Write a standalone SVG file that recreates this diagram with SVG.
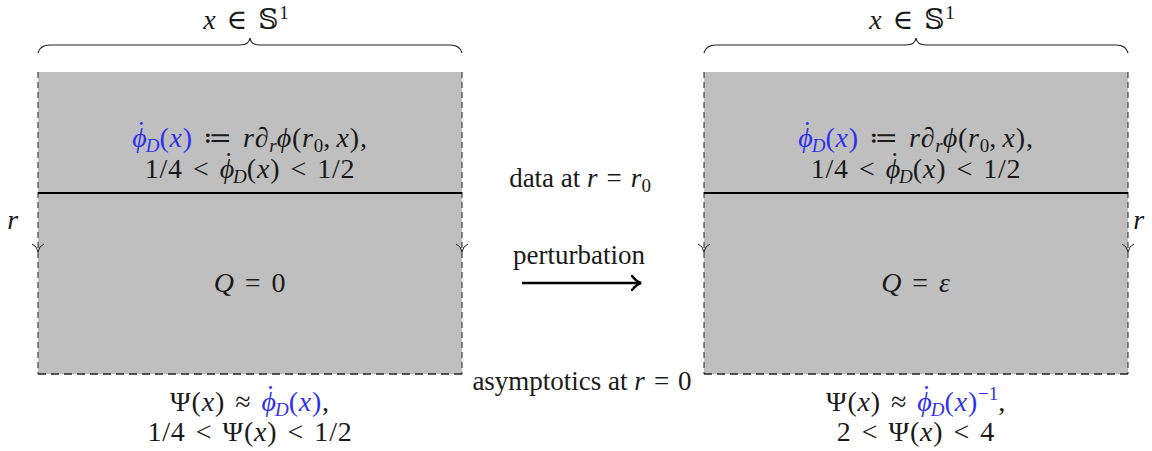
<svg xmlns="http://www.w3.org/2000/svg" width="1152" height="451" viewBox="0 0 1152 451">
<style>
text{font-family:"Liberation Serif","DejaVu Serif",serif;font-size:28px;fill:#1a1a1a;letter-spacing:0.8px}
.i{font-style:italic}
.b{fill:#3030f0}
.s{font-size:19px;letter-spacing:0}
.side{fill:none;stroke:#222;stroke-width:1;stroke-dasharray:6 4}
.bot{fill:none;stroke:#222;stroke-width:1.6;stroke-dasharray:8 5}
.mid{stroke:#000;stroke-width:2}
.br{fill:none;stroke:#222;stroke-width:1.2}
.ah{fill:none;stroke:#222;stroke-width:1}
.lbl{font-size:27px;letter-spacing:0}
</style>
<defs>
<marker id="big" viewBox="0 0 12 16" refX="10" refY="8" markerWidth="12" markerHeight="16" markerUnits="userSpaceOnUse" orient="auto">
<path d="M1,1 Q6,7 10,8 Q6,9 1,15" fill="none" stroke="#000" stroke-width="2.6" stroke-linecap="round"/>
</marker>
</defs>

<g id="left-box">
<rect x="38" y="72" width="424" height="302" fill="#bfbfbf"/>
<line class="side" x1="38" y1="72" x2="38" y2="374"/>
<line class="side" x1="462" y1="72" x2="462" y2="374"/>
<line class="bot" x1="38" y1="374" x2="462" y2="374"/>
<line class="mid" x1="38" y1="193" x2="462" y2="193"/>
<path class="ah" d="M32,244 Q37,246 38,252 Q39,246 44,244"/>
<path class="ah" d="M456,244 Q461,246 462,252 Q463,246 468,244"/>
<path class="br" d="M38,53 Q40,45 50,45 L240,45 Q249,45 250,38 Q251,45 260,45 L450,45 Q460,45 462,53"/>
<text x="246" y="29" text-anchor="middle"><tspan class="i">x</tspan>&#x2004;∈&#x2004;𝕊<tspan class="s" dy="-10">1</tspan></text>
<text x="13" y="229" text-anchor="middle" class="i">r</text>
<text x="250" y="147" text-anchor="middle"><tspan class="b"><tspan class="i">ϕ</tspan><tspan dx="-11" dy="-7">˙</tspan><tspan class="s i" dx="-1" dy="12">D</tspan><tspan dy="-5">(</tspan><tspan class="i">x</tspan>)</tspan>&#x2004;≔&#x2004;<tspan class="i">r</tspan>∂<tspan class="s i" dy="5">r</tspan><tspan class="i" dy="-5">ϕ</tspan>(<tspan class="i">r</tspan><tspan class="s" dy="5">0</tspan><tspan dy="-5">,&#x2006;</tspan><tspan class="i">x</tspan>),</text>
<text x="250" y="178" text-anchor="middle">1/4&#x2004;&lt;&#x2004;<tspan class="i">ϕ</tspan><tspan dx="-11" dy="-7">˙</tspan><tspan class="s i" dx="-1" dy="12">D</tspan><tspan dy="-5">(</tspan><tspan class="i">x</tspan>)&#x2004;&lt;&#x2004;1/2</text>
<text x="250" y="292" text-anchor="middle"><tspan class="i">Q</tspan>&#x2004;=&#x2004;0</text>
<text x="250" y="411" text-anchor="middle">Ψ(<tspan class="i">x</tspan>)&#x2004;≈&#x2004;<tspan class="b"><tspan class="i">ϕ</tspan><tspan dx="-11" dy="-7">˙</tspan><tspan class="s i" dx="-1" dy="12">D</tspan><tspan dy="-5">(</tspan><tspan class="i">x</tspan>)</tspan>,</text>
<text x="250" y="441" text-anchor="middle">1/4&#x2004;&lt;&#x2004;Ψ(<tspan class="i">x</tspan>)&#x2004;&lt;&#x2004;1/2</text>
</g>

<g id="right-box">
<rect x="704" y="72" width="424" height="302" fill="#bfbfbf"/>
<line class="side" x1="704" y1="72" x2="704" y2="374"/>
<line class="side" x1="1128" y1="72" x2="1128" y2="374"/>
<line class="bot" x1="704" y1="374" x2="1128" y2="374"/>
<line class="mid" x1="704" y1="193" x2="1128" y2="193"/>
<path class="ah" d="M698,244 Q703,246 704,252 Q705,246 710,244"/>
<path class="ah" d="M1122,244 Q1127,246 1128,252 Q1129,246 1134,244"/>
<path class="br" d="M704,53 Q706,45 716,45 L906,45 Q915,45 916,38 Q917,45 926,45 L1116,45 Q1126,45 1128,53"/>
<text x="912" y="29" text-anchor="middle"><tspan class="i">x</tspan>&#x2004;∈&#x2004;𝕊<tspan class="s" dy="-10">1</tspan></text>
<text x="1139" y="229" text-anchor="middle" class="i">r</text>
<text x="916" y="147" text-anchor="middle"><tspan class="b"><tspan class="i">ϕ</tspan><tspan dx="-11" dy="-7">˙</tspan><tspan class="s i" dx="-1" dy="12">D</tspan><tspan dy="-5">(</tspan><tspan class="i">x</tspan>)</tspan>&#x2004;≔&#x2004;<tspan class="i">r</tspan>∂<tspan class="s i" dy="5">r</tspan><tspan class="i" dy="-5">ϕ</tspan>(<tspan class="i">r</tspan><tspan class="s" dy="5">0</tspan><tspan dy="-5">,&#x2006;</tspan><tspan class="i">x</tspan>),</text>
<text x="916" y="178" text-anchor="middle">1/4&#x2004;&lt;&#x2004;<tspan class="i">ϕ</tspan><tspan dx="-11" dy="-7">˙</tspan><tspan class="s i" dx="-1" dy="12">D</tspan><tspan dy="-5">(</tspan><tspan class="i">x</tspan>)&#x2004;&lt;&#x2004;1/2</text>
<text x="916" y="292" text-anchor="middle"><tspan class="i">Q</tspan>&#x2004;=&#x2004;<tspan class="i">ε</tspan></text>
<text x="916" y="411" text-anchor="middle">Ψ(<tspan class="i">x</tspan>)&#x2004;≈&#x2004;<tspan class="b"><tspan class="i">ϕ</tspan><tspan dx="-11" dy="-7">˙</tspan><tspan class="s i" dx="-1" dy="12">D</tspan><tspan dy="-5">(</tspan><tspan class="i">x</tspan>)<tspan class="s" dy="-11">−1</tspan></tspan><tspan dy="11">,</tspan></text>
<text x="916" y="441" text-anchor="middle">2&#x2004;&lt;&#x2004;Ψ(<tspan class="i">x</tspan>)&#x2004;&lt;&#x2004;4</text>
</g>

<g id="connectors">
<line x1="522" y1="283" x2="641" y2="283" stroke="#000" stroke-width="2.6" marker-end="url(#big)"/>
</g>

<g id="middle-labels">
<text class="lbl" x="580" y="187" text-anchor="middle">data at <tspan class="i">r</tspan>&#x2004;=&#x2004;<tspan class="i">r</tspan><tspan class="s" dy="5">0</tspan></text>
<text class="lbl" x="579" y="264" text-anchor="middle">perturbation</text>
<text class="lbl" x="582" y="390" text-anchor="middle">asymptotics at <tspan class="i">r</tspan>&#x2004;=&#x2004;0</text>
</g>
</svg>
